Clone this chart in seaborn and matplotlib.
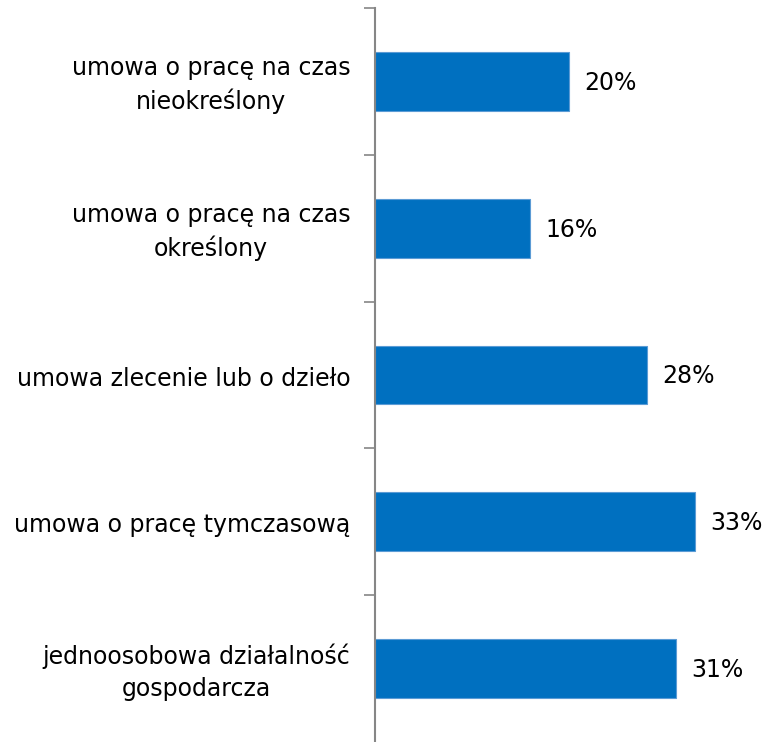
import numpy as np
import pandas as pd
import matplotlib
matplotlib.use("Agg")
import matplotlib.pyplot as plt
import seaborn as sns

categories = [
    "umowa o pracę na czas\nnieokreślony",
    "umowa o pracę na czas\nokreślony",
    "umowa zlecenie lub o dzieło",
    "umowa o pracę tymczasową",
    "jednoosobowa działalność\ngospodarcza",
]
values = [0.20, 0.16, 0.28, 0.33, 0.31]
value_labels = ["20%", "16%", "28%", "33%", "31%"]

df = pd.DataFrame({"kategoria": categories, "udzial": values})

sns.set_style("white")
plt.rcParams["font.family"] = ["DejaVu Sans"]

fig = plt.figure(figsize=(7.79, 7.42), dpi=100)
# axes: x from 375 to 779 px, y from 8 to 743 px
ax = fig.add_axes([375 / 779, 0 / 742, 404 / 779, 734 / 742])

sns.barplot(data=df, x="udzial", y="kategoria", orient="h", color="#0070C0",
            width=0.4, edgecolor="#5B9BD5", linewidth=0.8, saturation=1, ax=ax)

ax.set_xlim(0, 404 / 9.7 / 100)
ax.set_ylim(4.5, -0.5)

for i, (v, lab) in enumerate(zip(values, value_labels)):
    ax.text(v + 0.016, i + 0.01, lab, va="center", ha="left", fontsize=17, color="black")

ax.set_xlabel("")
ax.set_ylabel("")
ax.set_xticks([])
ax.set_yticks(np.arange(-0.5, 4.5, 1))
ax.set_yticklabels([])
ax.tick_params(axis="y", direction="out", length=8, width=1.2, color="#868686", left=True)

# etykiety kategorii (wyśrodkowane wielowierszowo, dosunięte do osi)
for i, cat in enumerate(categories):
    ax.text(-0.0255, i + 0.025, cat, ha="right", va="center", multialignment="center",
            fontsize=17, color="black", linespacing=1.4)

for s in ["top", "right", "bottom"]:
    ax.spines[s].set_visible(False)
ax.spines["left"].set_color("#868686")
ax.spines["left"].set_linewidth(1.5)

fig.savefig("out.png", dpi=100)
